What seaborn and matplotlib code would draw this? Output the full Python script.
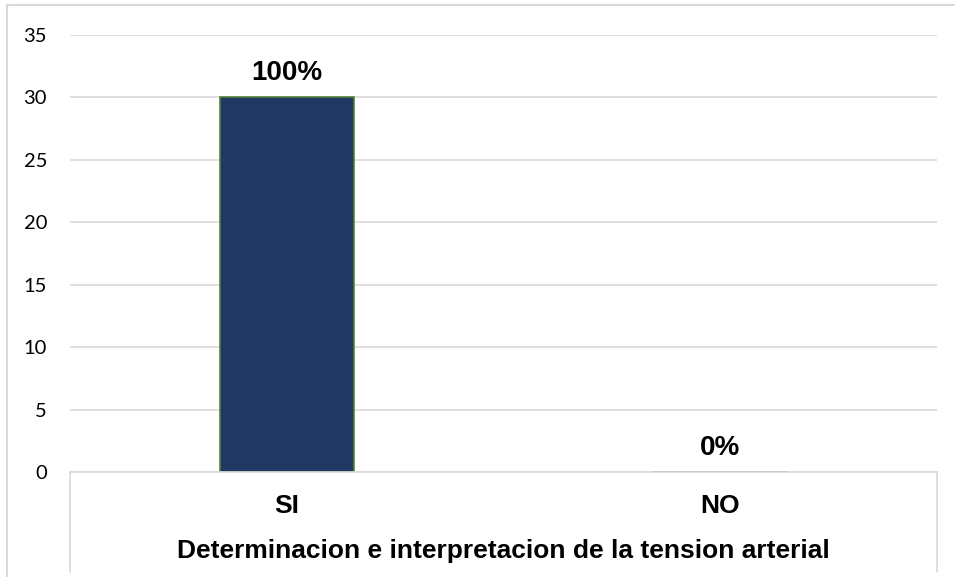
import matplotlib
matplotlib.use("Agg")
import matplotlib.pyplot as plt
from matplotlib.lines import Line2D
import seaborn as sns
import pandas as pd

categories = ["SI", "NO"]
counts = [30, 0]
pct_labels = ["100%", "0%"]
y_ticks = [0, 5, 10, 15, 20, 25, 30, 35]
x_title = "Determinacion e interpretacion de la tension arterial"

sns.set_theme(style="white")
plt.rcParams['font.family'] = ['Liberation Sans', 'DejaVu Sans']
plt.rcParams['text.color'] = 'black'
plt.rcParams['xtick.color'] = 'black'
plt.rcParams['ytick.color'] = 'black'
plt.rcParams['axes.labelcolor'] = 'black'

df = pd.DataFrame({"cat": categories, "n": counts})

fig = plt.figure(figsize=(9.55, 5.77), dpi=100)
ax = fig.add_axes([70 / 955, 1 - 472 / 577, 867 / 955, 437 / 577])

sns.barplot(data=df, x="cat", y="n", color="#1F3864", width=0.31,
            edgecolor="#548235", linewidth=1.2, saturation=1, ax=ax)

ax.set_ylim(0, 35)
ax.set_yticks(y_ticks)
ax.yaxis.grid(True, color="#D9D9D9", linewidth=1.2)
ax.set_axisbelow(True)
for s in ["top", "right", "left"]:
    ax.spines[s].set_visible(False)
ax.spines["bottom"].set_color("#D9D9D9")
ax.spines["bottom"].set_linewidth(1.2)
ax.spines["bottom"].set_zorder(5)

ax.tick_params(axis="y", length=0, pad=16.5, labelsize=14.5)
ax.tick_params(axis="x", length=0, pad=16)
for t in ax.get_yticklabels():
    t.set_fontfamily(["Lato", "DejaVu Sans"])
for t in ax.get_xticklabels():
    t.set_fontweight("bold")
    t.set_fontsize(19)

ax.bar_label(ax.containers[0], labels=pct_labels, padding=8,
             fontsize=20, fontweight="bold")

ax.set_xlabel(x_title, fontsize=19, fontweight="bold", labelpad=15)
ax.set_ylabel("")

# category box lines below the plot area (Excel style)
for xa in [0, 1]:
    ax.add_line(Line2D([xa, xa], [0, -100 / 437], transform=ax.transAxes,
                       color="#D9D9D9", linewidth=1.2, clip_on=False))

# outer chart border
fig.add_artist(Line2D([7 / 955, 7 / 955], [0, 1 - 5 / 577], transform=fig.transFigure,
                      color="#D9D9D9", linewidth=1.5))
fig.add_artist(Line2D([7 / 955, 1], [1 - 5 / 577, 1 - 5 / 577], transform=fig.transFigure,
                      color="#D9D9D9", linewidth=1.5))

fig.savefig("out.png", dpi=100)
